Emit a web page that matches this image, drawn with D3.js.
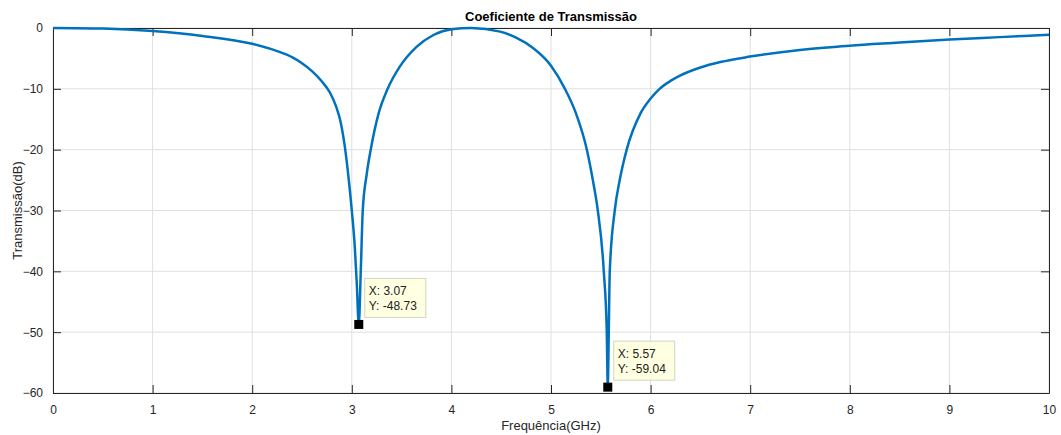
<!DOCTYPE html>
<html>
<head>
<meta charset="utf-8">
<script src="https://cdn.jsdelivr.net/npm/d3@7"></script>
<style>
  body { margin: 0; background: #fff; }
  text { font-family: "Liberation Sans", Arial, sans-serif; }
</style>
</head>
<body>
<div id="chart"></div>
<script>
// frequency (GHz) and transmission (dB)
var freq = [0, 0.5, 1.0, 1.5, 2.0, 2.25, 2.4, 2.5, 2.6, 2.7, 2.78, 2.84, 2.89, 2.93, 2.97, 3.00, 3.03, 3.05, 3.07,
  3.09, 3.11, 3.15, 3.19, 3.27, 3.36, 3.48, 3.65, 3.82, 4.0, 4.2, 4.49, 4.65, 4.82, 5.0,
  5.14, 5.25, 5.36, 5.42, 5.47, 5.53, 5.56, 5.57, 5.58, 5.59, 5.64, 5.69, 5.76, 5.9, 6.0, 6.09,
  6.2, 6.3, 6.5, 6.7, 7.0, 7.5, 8.0, 8.5, 9.0, 9.5, 10];
var trans = [0, -0.1, -0.5, -1.3, -2.6, -3.8, -4.8, -5.8, -7.1, -8.8, -10.6, -12.8, -15.6, -19.5, -25, -30, -36, -42, -48.73,
  -40, -30, -24, -20, -14, -10, -6.4, -3.1, -1.15, -0.2, 0, -0.6, -1.6, -3.3, -6.2,
  -10, -14, -20, -25, -30, -40, -50, -59.04, -50, -40, -30, -25, -20, -14, -11.6, -10,
  -8.7, -7.8, -6.5, -5.6, -4.7, -3.6, -2.9, -2.4, -1.9, -1.5, -1.1];

// data tips
var tipX = [3.07, 5.57];
var tipY = [-48.73, -59.04];

var xTicks = [0, 1, 2, 3, 4, 5, 6, 7, 8, 9, 10];
var yTicks = [0, -10, -20, -30, -40, -50, -60];

var width = 1061, height = 435;
var margin = {top: 28, right: 12, bottom: 42, left: 53};
var w = width - margin.left - margin.right;
var h = height - margin.top - margin.bottom;

var svg = d3.select("#chart").append("svg")
  .attr("width", width)
  .attr("height", height);

var g = svg.append("g")
  .attr("transform", "translate(" + margin.left + "," + margin.top + ")");

var x = d3.scaleLinear().domain([0, 10]).range([0, w]);
var y = d3.scaleLinear().domain([-60, 0]).range([h, 0]);

var axisColor = "#262626";

// grid
g.selectAll(".gx").data(xTicks).enter().append("line")
  .attr("x1", d => x(d)).attr("x2", d => x(d))
  .attr("y1", 0).attr("y2", h)
  .attr("stroke", "#dfdfdf").attr("stroke-width", 1);
g.selectAll(".gy").data(yTicks).enter().append("line")
  .attr("x1", 0).attr("x2", w)
  .attr("y1", d => y(d)).attr("y2", d => y(d))
  .attr("stroke", "#dfdfdf").attr("stroke-width", 1);

// axes (ticks pointing inward, box on)
var tickLen = 8;
function styleAxis(sel) {
  sel.selectAll("path").attr("stroke", axisColor);
  sel.selectAll("line").attr("stroke", axisColor);
  sel.selectAll("text").attr("fill", axisColor).style("font-size", "12px");
}
g.append("g").attr("transform", "translate(0," + h + ")")
  .call(d3.axisBottom(x).tickValues(xTicks).tickSizeInner(-tickLen).tickSizeOuter(0).tickPadding(12))
  .call(styleAxis);
g.append("g")
  .call(d3.axisLeft(y).tickValues(yTicks).tickSizeInner(-tickLen).tickSizeOuter(0).tickPadding(10))
  .call(styleAxis);
g.append("g")
  .call(d3.axisTop(x).tickValues(xTicks).tickSizeInner(-tickLen).tickSizeOuter(0).tickFormat(""))
  .call(styleAxis);
g.append("g").attr("transform", "translate(" + w + ",0)")
  .call(d3.axisRight(y).tickValues(yTicks).tickSizeInner(-tickLen).tickSizeOuter(0).tickFormat(""))
  .call(styleAxis);

// curve
var pts = freq.map((f, i) => [f, trans[i]]);
var line = d3.line()
  .x(d => x(d[0]))
  .y(d => y(d[1]))
  .curve(d3.curveMonotoneX);

g.append("path")
  .datum(pts)
  .attr("fill", "none")
  .attr("stroke", "#0072BD")
  .attr("stroke-width", 2.5)
  .attr("d", line);

// data tips
tipX.forEach(function(tx, i) {
  var cx = x(tx), cy = y(tipY[i]);
  var tip = g.append("g");
  tip.append("rect")
    .attr("x", cx + 6).attr("y", cy - 46)
    .attr("width", 61).attr("height", 39)
    .attr("fill", "#ffffe1")
    .attr("stroke", "#d4d4c4");
  tip.append("text")
    .attr("x", cx + 10).attr("y", cy - 29)
    .style("font-size", "12px").attr("fill", "#222")
    .text("X: " + tx.toFixed(2));
  tip.append("text")
    .attr("x", cx + 10).attr("y", cy - 14)
    .style("font-size", "12px").attr("fill", "#222")
    .text("Y: " + tipY[i].toFixed(2));
  tip.append("rect")
    .attr("x", cx - 4.5).attr("y", cy - 4.5)
    .attr("width", 9).attr("height", 9)
    .attr("fill", "#000");
});

// title and labels
svg.append("text")
  .attr("x", margin.left + w / 2).attr("y", 21)
  .attr("text-anchor", "middle")
  .style("font-size", "13px").style("font-weight", "bold")
  .attr("fill", "#000")
  .text("Coeficiente de Transmissão");

svg.append("text")
  .attr("x", margin.left + w / 2).attr("y", 430)
  .attr("text-anchor", "middle")
  .style("font-size", "13px")
  .attr("fill", axisColor)
  .text("Frequência(GHz)");

svg.append("text")
  .attr("transform", "translate(22," + (margin.top + h / 2) + ") rotate(-90)")
  .attr("text-anchor", "middle")
  .style("font-size", "13px")
  .attr("fill", axisColor)
  .text("Transmissão(dB)");
</script>
</body>
</html>
